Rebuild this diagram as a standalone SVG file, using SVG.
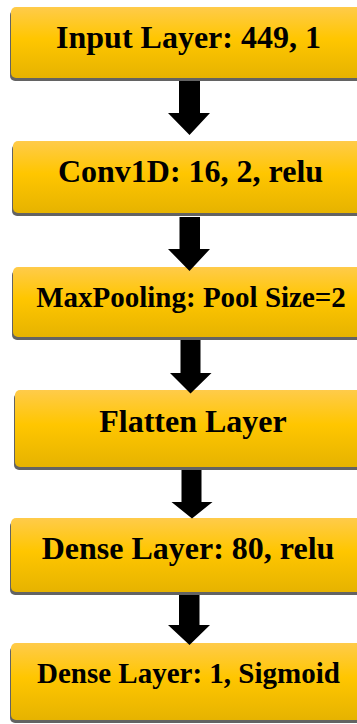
<svg xmlns="http://www.w3.org/2000/svg" width="357" height="724" viewBox="0 0 357 724">
<defs>
<linearGradient id="g" x1="0" y1="0" x2="0" y2="1">
<stop offset="0" stop-color="#FFCB4A"/>
<stop offset="0.45" stop-color="#FFC600"/>
<stop offset="1" stop-color="#E6B300"/>
</linearGradient>
</defs>
<style>
.box{fill:url(#g);}
.sh{fill:#636363;}
.t{font-family:'Liberation Serif','DejaVu Serif',serif;font-weight:700;fill:#000;text-anchor:middle;}
.arr{fill:#000;}
</style>
<rect width="357" height="724" fill="#fff"/>
<g id="n1">
<rect class="sh" x="10" y="10" width="360" height="71" rx="5"/>
<rect class="box" x="11" y="7" width="360" height="71" rx="5"/>
<text class="t" font-family="Liberation Serif, serif" x="188.5" y="48" font-size="32">Input Layer: 449, 1</text>
</g>
<g id="n2">
<rect class="sh" x="12" y="144" width="360" height="72" rx="5"/>
<rect class="box" x="13" y="141" width="360" height="72" rx="5"/>
<text class="t" font-family="Liberation Serif, serif" x="190.5" y="182" font-size="32">Conv1D: 16, 2, relu</text>
</g>
<g id="n3">
<rect class="sh" x="12" y="270" width="360" height="70" rx="5"/>
<rect class="box" x="13" y="267" width="360" height="70" rx="5"/>
<text class="t" font-family="Liberation Serif, serif" x="191" y="307" font-size="29">MaxPooling: Pool Size=2</text>
</g>
<g id="n4">
<rect class="sh" x="14" y="393" width="360" height="77" rx="5"/>
<rect class="box" x="15" y="390" width="360" height="77" rx="5"/>
<text class="t" font-family="Liberation Serif, serif" x="193" y="432" font-size="32">Flatten Layer</text>
</g>
<g id="n5">
<rect class="sh" x="10" y="521" width="360" height="74" rx="5"/>
<rect class="box" x="11" y="518" width="360" height="74" rx="5"/>
<text class="t" font-family="Liberation Serif, serif" x="188" y="559" font-size="32">Dense Layer: 80, relu</text>
</g>
<g id="n6">
<rect class="sh" x="10" y="646" width="360" height="77" rx="5"/>
<rect class="box" x="11" y="643" width="360" height="77" rx="5"/>
<text class="t" font-family="Liberation Serif, serif" x="188.4" y="683" font-size="29">Dense Layer: 1, Sigmoid</text>
</g>
<g id="connectors">
<polygon class="arr" points="179,81 200,81 200,113 210,113 189.5,135 168,113 179,113"/>
<polygon class="arr" points="179.5,217 200,217 200,249 210,249 189.5,271 168,249 179.5,249"/>
<polygon class="arr" points="180.5,340 200.5,340 200.5,373 211.5,373 190.5,393.5 170,373 180.5,373"/>
<polygon class="arr" points="181.5,470 201.5,470 201.5,502 212.5,502 192,518.5 171.5,502 181.5,502"/>
<polygon class="arr" points="179,595 199.5,595 199.5,625 210,625 189.5,645 168,625 179,625"/>
</g>
</svg>
